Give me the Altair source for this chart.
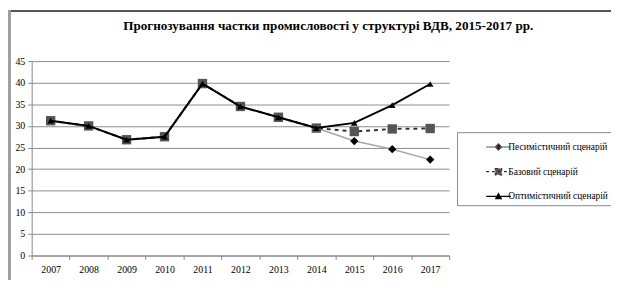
import altair as alt
import pandas as pd

years = ["2007", "2008", "2009", "2010", "2011", "2012", "2013", "2014", "2015", "2016", "2017"]
history = [31.2, 30.0, 26.8, 27.5, 39.8, 34.5, 32.0, 29.5]
pess_fc = [26.5, 24.6, 22.2]
base_fc = [28.7, 29.3, 29.4]
opt_fc = [30.7, 34.8, 39.7]

names = ["Песимістичний сценарій", "Базовий сценарій", "Оптимістичний сценарій"]
series = [history + pess_fc, history + base_fc, history + opt_fc]

rows = []
for name, vals in zip(names, series):
    for y, v in zip(years, vals):
        rows.append({"year": y, "value": v, "scenario": name})
df = pd.DataFrame(rows)

FONT = "Liberation Serif"

x_enc = alt.X(
    "year:O",
    scale=alt.Scale(type="band", paddingInner=0, paddingOuter=0),
    axis=alt.Axis(title=None, labelAngle=0, tickBand="extent", grid=False, labelPadding=5),
)
y_enc = alt.Y(
    "value:Q",
    scale=alt.Scale(domain=[0, 45]),
    axis=alt.Axis(title=None, values=list(range(0, 50, 5)), grid=True, labelPadding=3),
)

base = alt.Chart(df)


def sel(name):
    return base.transform_filter(alt.datum.scenario == name)


pess_line = sel(names[0]).mark_line(color="#a6a6a6", strokeWidth=1.5).encode(x=x_enc, y=y_enc)
pess_pts = sel(names[0]).mark_point(shape="diamond", filled=True, color="black", size=70, opacity=1).encode(x=x_enc, y=y_enc)
base_line = sel(names[1]).mark_line(color="#333333", strokeWidth=2, strokeDash=[4, 4]).encode(x=x_enc, y=y_enc)
base_pts = sel(names[1]).mark_point(shape="square", filled=True, color="#555555", size=90, opacity=1).encode(x=x_enc, y=y_enc)
opt_line = sel(names[2]).mark_line(color="black", strokeWidth=2).encode(x=x_enc, y=y_enc)
opt_pts = sel(names[2]).mark_point(shape="triangle-up", filled=True, color="black", size=45, opacity=1).encode(x=x_enc, y=y_enc)

legend_paths = [
    "M1.45,0L3.95,0M2.7,-0.32L3.02,0L2.7,0.32L2.38,0Z",
    "M1.45,0L3.95,0M2.38,-0.32L3.02,-0.32L3.02,0.32L2.38,0.32Z",
    "M1.45,0L3.95,0M2.7,-0.28L2.98,0.24L2.42,0.24Z",
]
leg = alt.Legend(title=None, orient="none", legendX=431, legendY=72)
legend_layer = base.transform_filter("datum.value < 0").mark_point(
    filled=True, size=400, opacity=1, strokeWidth=1.2
).encode(
    x=x_enc, y=y_enc,
    shape=alt.Shape("scenario:N", scale=alt.Scale(domain=names, range=legend_paths), legend=leg),
    fill=alt.Fill("scenario:N", scale=alt.Scale(domain=names, range=["black", "#555555", "black"]), legend=leg),
    stroke=alt.Stroke("scenario:N", scale=alt.Scale(domain=names, range=["#555555", "#333333", "black"]), legend=leg),
    strokeDash=alt.StrokeDash("scenario:N", scale=alt.Scale(domain=names, range=[[1, 0], [3, 3], [1, 0]]), legend=leg),
)

frame_top = base.mark_rule(color="#555555", strokeWidth=1.5).encode(
    x=alt.value(-24), x2=alt.value(590), y=alt.value(-51)
)
frame_left = base.mark_rule(color="#a0a0a0", strokeWidth=2.5).encode(
    x=alt.value(-23), y=alt.value(-51), y2=alt.value(221)
)

chart = alt.layer(
    frame_top, frame_left,
    pess_line, pess_pts, base_line, base_pts, opt_line, opt_pts, legend_layer,
).properties(
    width=423,
    height=197,
    title=alt.TitleParams(
        "Прогнозування частки промисловості у структурі ВДВ, 2015-2017 рр.",
        font=FONT, fontSize=13.3, fontWeight="bold", color="black",
        anchor="middle", frame="group", dx=89, offset=-23,
    ),
    autosize=alt.AutoSizeParams(type="none"),
    padding={"left": 24, "top": 52, "right": 164, "bottom": 24},
).configure_view(
    strokeWidth=0
).configure_axis(
    labelFont=FONT, labelFontSize=10, labelColor="black",
    domainColor="#888888", tickColor="#888888", tickSize=4, gridColor="#8c8c8c",
).configure_legend(
    labelFont=FONT, labelFontSize=9.5, labelColor="black", padding=4,
    strokeColor="#888888", fillColor="white", rowPadding=8, labelOffset=26,
    symbolSize=400, symbolStrokeWidth=1.2,
)

chart.save("out.html", embed_options={"renderer": "svg", "actions": False})
